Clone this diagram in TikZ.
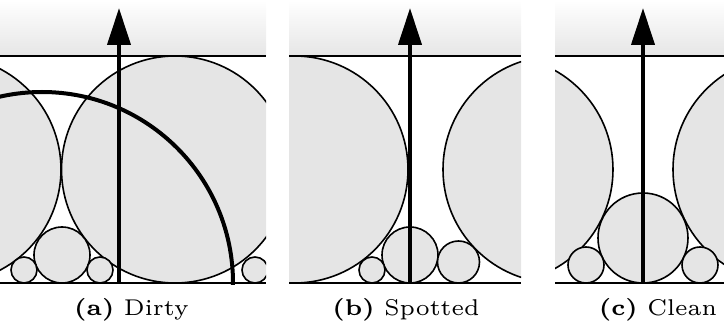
\documentclass[tikz,border=0pt]{standalone}
\usepackage{xcolor}
\usepackage{tikz}
\usetikzlibrary{arrows.meta}

\begin{document}
\begin{tikzpicture}[
  x=1pt, y=1pt,
  ball/.style={draw=black, fill=gray!20, line width=1.6pt},
  wall/.style={draw=black, line width=1.8pt},
  sky/.style={top color=white, bottom color=gray!20, draw=none},
  fl/.style={-{Triangle[length=37pt,width=23pt]}, draw=black, line width=4pt},
  sweep/.style={draw=black, line width=4pt},
  subcap/.style={anchor=base, font=\fontsize{6}{7}\selectfont, scale=3.8}
]
\useasboundingbox (0,-44) rectangle (724,283);

% ---- shaded band above each panel
\foreach \xa/\xb in {0/266, 289/521, 555/724}{
  \shade[sky] (\xa,227) rectangle (\xb,283);
}

% ---- (a) dirty
\begin{scope}
  \clip (0,-1) rectangle (266,228);
  \draw[ball] (-52.5,113.5) circle (113.5);
  \draw[ball] (175,113.5) circle (113.5);
  \draw[ball] (62,28) circle (28);
  \draw[ball] (24,13) circle (13);
  \draw[ball] (100,13) circle (13);
  \draw[ball] (255,13) circle (13);
  \draw[sweep] (42,0) circle (191);
\end{scope}

% ---- (b) spotted
\begin{scope}
  \clip (289,-1) rectangle (521,228);
  \draw[ball] (294.5,113.5) circle (113.5);
  \draw[ball] (556.5,113.5) circle (113.5);
  \draw[ball] (410,28) circle (28);
  \draw[ball] (372,13) circle (13);
  \draw[ball] (458.5,21) circle (21);
\end{scope}

% ---- (c) clean
\begin{scope}
  \clip (555,-1) rectangle (724,228);
  \draw[ball] (499.5,113.5) circle (113.5);
  \draw[ball] (786.5,113.5) circle (113.5);
  \draw[ball] (643,45) circle (45);
  \draw[ball] (586,18) circle (18);
  \draw[ball] (700,18) circle (18);
\end{scope}

% ---- walls and arrows
\foreach \xa/\xb/\xm in {0/266/119, 289/521/410, 555/724/643}{
  \draw[wall] (\xa,0) -- (\xb,0);
  \draw[wall] (\xa,227) -- (\xb,227);
  \draw[fl] (\xm,0) -- (\xm,275);
}

% ---- captions
\node[subcap] (capa) at (131.5,-32.5) {\textbf{(a)} Dirty};
\node[subcap] (capb) at (406,-32.5) {\textbf{(b)} Spotted};
\node[subcap] (capc) at (658,-32.5) {\textbf{(c)} Clean};
\end{tikzpicture}
\end{document}
